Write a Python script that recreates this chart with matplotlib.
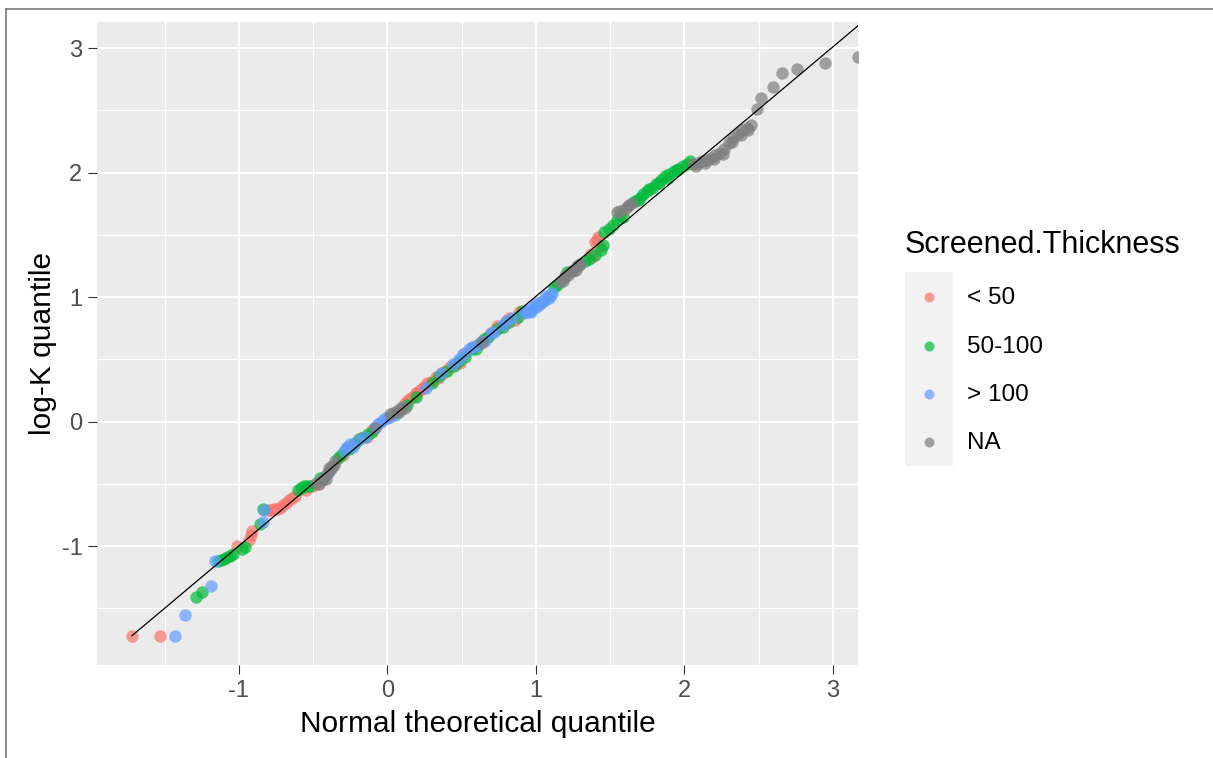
import matplotlib
matplotlib.use("Agg")
import matplotlib.pyplot as plt
from matplotlib.lines import Line2D
from matplotlib.patches import Rectangle

plt.rcParams['font.family'] = ['Liberation Sans', 'DejaVu Sans']
plt.rcParams['axes.unicode_minus'] = False

# ---- data ----
categories = ["< 50", "50-100", "> 100", "NA"]
colors = ["#F8766D", "#00BA38", "#619CFF", "#7F7F7F"]

lt50_x = [-1.72, -1.53, -1.01, -0.93, -0.91, -0.92, -0.80, -0.78, -0.76, -0.74, -0.72, -0.70,
          -0.68, -0.66, -0.64, -0.62, -0.55, -0.50, -0.47, -0.30, -0.24, -0.18, -0.14, -0.10,
          0.12, 0.14, 0.16, 0.17, 0.19, 0.20, 0.22, 0.24, 0.25, 0.27, 0.28, 0.31, 0.33, 0.34,
          0.37, 0.39, 0.42, 0.46, 0.49, 0.52, 0.58, 0.63, 0.69, 0.72, 0.74, 0.76, 0.80, 0.82,
          0.86, 0.89, 1.37, 1.38, 1.40, 1.41, 1.42, 1.43]
lt50_y = [-1.72, -1.72, -1.00, -0.95, -0.88, -0.91, -0.71, -0.71, -0.70, -0.70, -0.69, -0.67,
          -0.65, -0.63, -0.61, -0.60, -0.55, -0.52, -0.50, -0.27, -0.19, -0.13, -0.12, -0.07,
          0.15, 0.17, 0.19, 0.20, 0.23, 0.23, 0.25, 0.27, 0.28, 0.31, 0.31, 0.33, 0.36, 0.35,
          0.38, 0.41, 0.44, 0.46, 0.47, 0.55, 0.60, 0.63, 0.70, 0.73, 0.77, 0.76, 0.79, 0.83,
          0.82, 0.88, 1.35, 1.32, 1.44, 1.46, 1.48, 1.40]

mid_x = [-1.29, -1.25, -1.14, -1.12, -1.10, -1.08, -1.06, -1.04, -0.98, -0.96, -0.86, -0.84,
         -0.60, -0.58, -0.56, -0.54, -0.52, -0.45, -0.33, -0.31, -0.28, -0.26, -0.22, -0.19,
         -0.16, -0.13, -0.10, 0.06, 0.09, 0.13, 0.19, 0.30, 0.35, 0.40, 0.45, 0.48, 0.52,
         0.57, 0.60, 0.62, 0.65, 0.68, 0.74, 0.78, 0.82, 0.88, 0.91, 1.12, 1.14, 1.21,
         1.33, 1.36, 1.40, 1.44, 1.45, 1.46, 1.49, 1.52, 1.55, 1.57, 1.59, 1.67, 1.69,
         1.70, 1.72, 1.75, 1.76, 1.78, 1.81, 1.83, 1.84, 1.87, 1.89, 1.90, 1.93, 1.95,
         1.96, 1.99, 2.02, 2.04]
mid_y = [-1.41, -1.37, -1.12, -1.11, -1.10, -1.09, -1.08, -1.06, -1.02, -1.01, -0.82, -0.70,
         -0.55, -0.53, -0.52, -0.52, -0.52, -0.45, -0.29, -0.27, -0.22, -0.22, -0.17, -0.14,
         -0.12, -0.10, -0.08, 0.07, 0.10, 0.13, 0.20, 0.31, 0.37, 0.41, 0.45, 0.49, 0.52,
         0.58, 0.58, 0.62, 0.66, 0.68, 0.74, 0.76, 0.80, 0.84, 0.89, 1.08, 1.10, 1.20,
         1.29, 1.31, 1.34, 1.38, 1.42, 1.52, 1.55, 1.58, 1.62, 1.66, 1.64, 1.77, 1.78,
         1.80, 1.83, 1.85, 1.87, 1.88, 1.91, 1.92, 1.94, 1.97, 1.96, 1.99, 2.01, 2.02,
         2.03, 2.05, 2.07, 2.09]

gt100_x = [-1.43, -1.36, -1.19, -1.16, -0.84, -0.83, -0.43, -0.39, -0.29, -0.27, -0.25, -0.23,
           -0.20, -0.15, -0.08, -0.06, -0.04, -0.02, 0.00, 0.02, 0.05, 0.26, 0.36, 0.44,
           0.48, 0.51, 0.55, 0.57, 0.60, 0.63, 0.66, 0.70, 0.72, 0.78, 0.80, 0.84, 0.92,
           0.94, 0.95, 0.96, 0.97, 0.98, 0.99, 1.00, 1.01, 1.02, 1.03, 1.04, 1.05, 1.06,
           1.07, 1.08, 1.09, 1.10, 1.11]
gt100_y = [-1.72, -1.55, -1.32, -1.12, -0.81, -0.71, -0.46, -0.40, -0.24, -0.20, -0.18, -0.20,
           -0.15, -0.12, -0.04, -0.02, 0.00, 0.02, 0.03, 0.04, 0.05, 0.27, 0.39, 0.46,
           0.50, 0.54, 0.58, 0.60, 0.61, 0.64, 0.65, 0.71, 0.72, 0.78, 0.81, 0.83, 0.87,
           0.88, 0.90, 0.89, 0.88, 0.91, 0.93, 0.92, 0.95, 0.94, 0.95, 0.96, 0.97, 0.98,
           1.01, 1.00, 0.99, 1.02, 1.03]

na_x = [-0.48, -0.46, -0.44, -0.42, -0.41, -0.40, -0.39, -0.38, -0.37, -0.36, -0.35, -0.08,
        0.02, 0.04, 0.07, 0.08, 0.10, 0.12, 0.64, 1.16, 1.18, 1.19, 1.20, 1.22, 1.24,
        1.25, 1.27, 1.28, 1.29, 1.30, 1.55, 1.57, 1.60, 1.62, 1.63, 1.65, 2.06, 2.08,
        2.09, 2.12, 2.14, 2.15, 2.18, 2.20, 2.21, 2.24, 2.26, 2.27, 2.30, 2.32, 2.33,
        2.36, 2.38, 2.39, 2.42, 2.43, 2.45, 2.49, 2.52, 2.60, 2.66, 2.76, 2.95, 3.17]
na_y = [-0.49, -0.50, -0.47, -0.44, -0.46, -0.41, -0.37, -0.38, -0.36, -0.35, -0.32, -0.05,
        0.06, 0.07, 0.09, 0.08, 0.12, 0.11, 0.64, 1.12, 1.13, 1.15, 1.17, 1.18, 1.21,
        1.21, 1.22, 1.25, 1.26, 1.27, 1.68, 1.69, 1.71, 1.73, 1.74, 1.76, 2.07, 2.05,
        2.08, 2.09, 2.08, 2.10, 2.12, 2.11, 2.14, 2.16, 2.15, 2.19, 2.24, 2.25, 2.28,
        2.31, 2.30, 2.34, 2.36, 2.34, 2.38, 2.51, 2.60, 2.69, 2.80, 2.83, 2.88, 2.93]

line_x = [-1.72, 3.30]
line_y = [-1.72, 3.31]

x_ticks = [-1, 0, 1, 2, 3]
y_ticks = [-1, 0, 1, 2, 3]
x_minor = [-1.5, -0.5, 0.5, 1.5, 2.5]
y_minor = [-1.5, -0.5, 0.5, 1.5, 2.5]

# ---- figure ----
W, H = 1213, 758
fig = plt.figure(figsize=(W / 100, H / 100), dpi=100)
fig.patch.set_facecolor("white")

L, R, T, B = 97, 858, 22, 665
ax = fig.add_axes([L / W, 1 - B / H, (R - L) / W, (B - T) / H])
ax.set_facecolor("#EBEBEB")
for s in ax.spines.values():
    s.set_visible(False)

ax.set_xlim(-1.955, 3.17)
ax.set_ylim(-1.955, 3.21)
ax.set_xticks(x_ticks)
ax.set_yticks(y_ticks)
ax.set_xticks(x_minor, minor=True)
ax.set_yticks(y_minor, minor=True)
ax.grid(True, which="major", color="white", linewidth=1.5)
ax.grid(True, which="minor", color="white", linewidth=0.9)
ax.set_axisbelow(True)
ax.tick_params(which="minor", length=0)
ax.tick_params(which="major", length=6.5, width=0.8, color="#333333",
               labelcolor="#4D4D4D", labelsize=17, pad=4)

series = [(lt50_x, lt50_y), (mid_x, mid_y), (gt100_x, gt100_y), (na_x, na_y)]
for (xs, ys), c in zip(series, colors):
    ax.scatter(xs, ys, s=80, color=c, alpha=0.7, linewidths=0, zorder=2)

ax.plot(line_x, line_y, color="black", linewidth=0.9, zorder=3)

ax.set_xlabel("Normal theoretical quantile", fontsize=21.5, color="black", labelpad=6)
ax.set_ylabel("log-K quantile", fontsize=21.5, color="black", labelpad=3)

# ---- legend (drawn manually, ggplot style) ----
def fx(px):
    return px / W

def fy(py):
    return 1 - py / H

fig.text(fx(905), fy(245), "Screened.Thickness", fontsize=22, ha="left", va="center",
         color="black")
fig.add_artist(Rectangle((fx(905), fy(466)), fx(953) - fx(905), fy(272) - fy(466),
                         transform=fig.transFigure, facecolor="#F2F2F2",
                         edgecolor="none"))
key_y = [297, 346, 394, 442]
for lab, c, ky in zip(categories, colors, key_y):
    fig.add_artist(Line2D([fx(929)], [fy(ky)], marker="o", markersize=7.2,
                          markerfacecolor=c, markeredgewidth=0, alpha=0.7,
                          linestyle="none", transform=fig.transFigure))
    fig.text(fx(967), fy(ky + 1), lab, fontsize=17.5, ha="left", va="center",
             color="black")

# outer frame (top and left edges of the screenshot)
fig.add_artist(Line2D([fx(6), fx(W)], [fy(9), fy(9)], color="#7A7A7A", linewidth=1.2,
                      transform=fig.transFigure))
fig.add_artist(Line2D([fx(6), fx(6)], [fy(9), fy(H)], color="#7A7A7A", linewidth=1.2,
                      transform=fig.transFigure))

fig.savefig("out.png", dpi=100)
